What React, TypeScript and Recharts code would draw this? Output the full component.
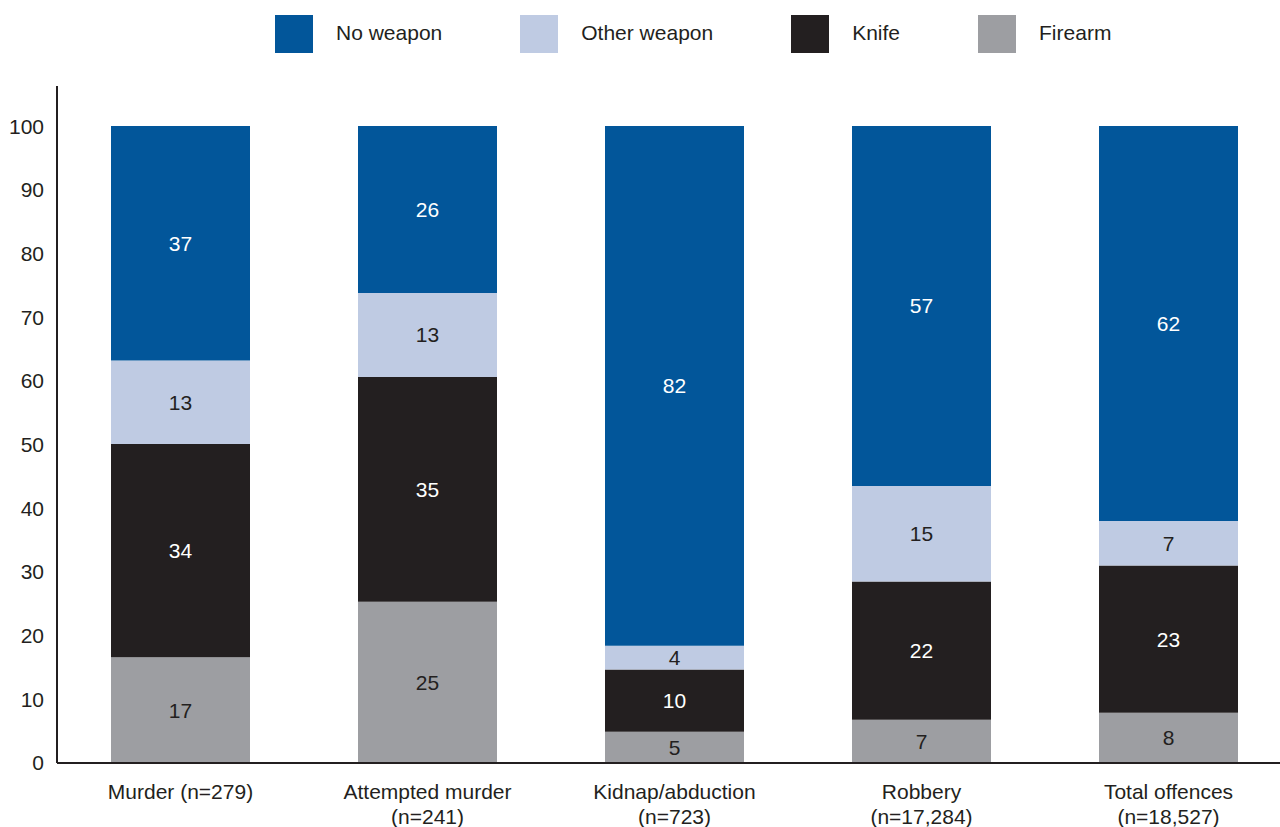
import { BarChart, Bar, XAxis, YAxis, Legend, LabelList } from 'recharts';

// categories and their two-line tick labels
const categories = ['Murder', 'Attempted murder', 'Kidnap/abduction', 'Robbery', 'Total offences'];
const categoryLines = [
  ['Murder (n=279)'],
  ['Attempted murder', '(n=241)'],
  ['Kidnap/abduction', '(n=723)'],
  ['Robbery', '(n=17,284)'],
  ['Total offences', '(n=18,527)'],
];

// percentages (labels show them rounded)
const firearm = [16.6, 25.3, 4.9, 6.8, 7.9];
const knife = [33.5, 35.3, 9.8, 21.7, 23.1];
const otherWeapon = [13.1, 13.2, 3.7, 15.0, 7.0];
const noWeapon = [36.8, 26.2, 81.6, 56.5, 62.0];

const yTicks = [0, 10, 20, 30, 40, 50, 60, 70, 80, 90, 100];

const TEXT = '#231f20';
const FONT = '"Liberation Sans", Arial, sans-serif';

// legend order left to right, stacking order bottom to top is the reverse
const series = [
  { key: 'noWeapon', name: 'No weapon', color: '#02569a', label: '#ffffff' },
  { key: 'otherWeapon', name: 'Other weapon', color: '#bfcbe3', label: TEXT },
  { key: 'knife', name: 'Knife', color: '#231f20', label: '#ffffff' },
  { key: 'firearm', name: 'Firearm', color: '#9d9ea2', label: TEXT },
];

const data = categories.map((name, i) => ({
  name,
  firearm: firearm[i],
  knife: knife[i],
  otherWeapon: otherWeapon[i],
  noWeapon: noWeapon[i],
}));

function CategoryTick(props: any) {
  const { x, y, payload } = props;
  const lines = categoryLines[categories.indexOf(payload.value)] || [payload.value];
  return (
    <text x={x} y={y + 28} textAnchor="middle" fill={TEXT} fontSize={21} fontFamily={FONT}>
      {lines.map((line, i) => (
        <tspan key={i} x={x} dy={i === 0 ? 0 : 25}>
          {line}
        </tspan>
      ))}
    </text>
  );
}

function WeaponLegend() {
  return (
    <div style={{ display: 'flex', alignItems: 'center', height: 60, paddingLeft: 275, paddingTop: 8, boxSizing: 'border-box' }}>
      {series.map((s) => (
        <div key={s.key} style={{ display: 'flex', alignItems: 'center', marginRight: 78 }}>
          <span style={{ width: 38, height: 38, background: s.color, display: 'inline-block', marginRight: 23 }} />
          <span style={{ fontSize: 21, color: TEXT, fontFamily: FONT, marginTop: -2 }}>{s.name}</span>
        </div>
      ))}
    </div>
  );
}

export default function App() {
  const stacked = [...series].reverse();
  return (
    <div style={{ position: 'absolute', left: 0, top: 0, width: 1280, height: 827, overflow: 'hidden', background: '#fff', fontFamily: FONT }}>
      <BarChart width={1300} height={827} data={data} margin={{ top: 26, right: 8, bottom: 0, left: 0 }}>
        <Legend
          verticalAlign="top"
          content={() => <WeaponLegend />}
          wrapperStyle={{ top: 0, left: 0, width: 1280, height: 60 }}
        />
        <XAxis
          dataKey="name"
          interval={0}
          height={64}
          tickLine={false}
          axisLine={{ stroke: TEXT, strokeWidth: 2 }}
          tick={<CategoryTick />}
        />
        <YAxis
          width={57}
          domain={[0, 106.3]}
          ticks={yTicks}
          tickLine={false}
          tickSize={0}
          tickMargin={13}
          axisLine={{ stroke: TEXT, strokeWidth: 2 }}
          tick={{ fill: TEXT, fontSize: 21, fontFamily: FONT }}
        />
        {stacked.map((s) => (
          <Bar key={s.key} dataKey={s.key} name={s.name} stackId="a" fill={s.color} barSize={139} isAnimationActive={false}>
            <LabelList
              dataKey={s.key}
              position="center"
              formatter={(v: any) => Math.round(Number(v))}
              fill={s.label}
              fontSize={21}
              fontFamily={FONT}
            />
          </Bar>
        ))}
      </BarChart>
    </div>
  );
}
